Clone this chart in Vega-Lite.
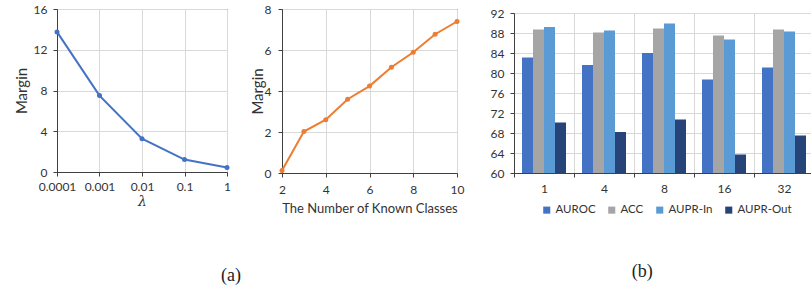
{
  "$schema": "https://vega.github.io/schema/vega-lite/v6.json",
  "padding": {"left": 13, "top": 2, "right": 0, "bottom": 0},
  "spacing": 24,
  "config": {
    "font": "Lato",
    "view": {"stroke": "#404040", "strokeWidth": 1},
    "axis": {
      "domainColor": "#404040",
      "tickColor": "#404040",
      "gridColor": "#d9d9d9",
      "labelColor": "#333333",
      "titleColor": "#333333",
      "labelFontSize": 12,
      "titleFontSize": 15,
      "titleFontWeight": "normal",
      "tickSize": 4,
      "labelPadding": 4
    },
    "legend": {"labelFontSize": 11.5, "labelColor": "#333333"}
  },
  "hconcat": [
    {
      "spacing": 17,
      "title": {"text": "(a)", "orient": "bottom", "anchor": "middle", "font": "Liberation Serif", "fontSize": 18, "fontWeight": "normal", "color": "#222222", "offset": 51, "dx": -8},
      "hconcat": [
        {
          "width": 170,
          "height": 163,
          "data": {"values": [
            {"lambda": 0.0001, "margin": 13.75},
            {"lambda": 0.001, "margin": 7.5},
            {"lambda": 0.01, "margin": 3.27},
            {"lambda": 0.1, "margin": 1.22},
            {"lambda": 1, "margin": 0.45}
          ]},
          "mark": {"type": "line", "color": "#4472C4", "strokeWidth": 2, "point": {"filled": true, "size": 25, "color": "#4472C4"}},
          "encoding": {
            "x": {"field": "lambda", "type": "quantitative",
              "scale": {"type": "log", "domain": [0.0001, 1], "nice": false},
              "axis": {"values": [0.0001, 0.001, 0.01, 0.1, 1], "format": "~g", "labelFlush": false, "labelOverlap": false, "title": "λ", "titleFontStyle": "italic", "titleFont": "DejaVu Serif", "titleFontSize": 14, "labelPadding": 5, "titlePadding": 2}},
            "y": {"field": "margin", "type": "quantitative",
              "scale": {"domain": [0, 16]},
              "axis": {"values": [0, 4, 8, 12, 16], "title": "Margin", "labelPadding": 6, "titlePadding": 4}}
          }
        },
        {
          "width": 175,
          "height": 164,
          "data": {"values": [
            {"k": 2, "margin": 0.12},
            {"k": 3, "margin": 2.02},
            {"k": 4, "margin": 2.6},
            {"k": 5, "margin": 3.6},
            {"k": 6, "margin": 4.24},
            {"k": 7, "margin": 5.16},
            {"k": 8, "margin": 5.89},
            {"k": 9, "margin": 6.77},
            {"k": 10, "margin": 7.39}
          ]},
          "mark": {"type": "line", "color": "#ED7D31", "strokeWidth": 2, "point": {"filled": true, "size": 25, "color": "#ED7D31"}},
          "encoding": {
            "x": {"field": "k", "type": "quantitative",
              "scale": {"domain": [2, 10], "nice": false},
              "axis": {"values": [2, 4, 6, 8, 10], "labelFlush": false, "labelOverlap": false, "title": "The Number of Known Classes", "titleFontSize": 13, "labelPadding": 7, "titlePadding": 7}},
            "y": {"field": "margin", "type": "quantitative",
              "scale": {"domain": [0, 8]},
              "axis": {"values": [0, 2, 4, 6, 8], "title": "Margin", "labelPadding": 7, "titlePadding": -1}}
          }
        }
      ]
    },
    {
      "title": {"text": "(b)", "orient": "bottom", "anchor": "middle", "font": "Liberation Serif", "fontSize": 18, "fontWeight": "normal", "color": "#222222", "offset": 46, "dx": -10},
      "spacing": -4,
      "resolve": {"scale": {"color": "independent"}, "legend": {"color": "independent"}},
      "vconcat": [
        {
          "width": 300,
          "height": 1,
          "view": {"stroke": null},
          "data": {"values": []},
          "mark": "point",
          "encoding": {}
        },
        {
          "width": 300,
          "height": 160,
          "data": {"values": [
            {"group": "1", "metric": "AUROC", "value": 83.1},
            {"group": "1", "metric": "ACC", "value": 88.7},
            {"group": "1", "metric": "AUPR-In", "value": 89.2},
            {"group": "1", "metric": "AUPR-Out", "value": 70.1},
            {"group": "4", "metric": "AUROC", "value": 81.6},
            {"group": "4", "metric": "ACC", "value": 88.1},
            {"group": "4", "metric": "AUPR-In", "value": 88.5},
            {"group": "4", "metric": "AUPR-Out", "value": 68.2},
            {"group": "8", "metric": "AUROC", "value": 84.0},
            {"group": "8", "metric": "ACC", "value": 88.9},
            {"group": "8", "metric": "AUPR-In", "value": 89.9},
            {"group": "8", "metric": "AUPR-Out", "value": 70.7},
            {"group": "16", "metric": "AUROC", "value": 78.7},
            {"group": "16", "metric": "ACC", "value": 87.5},
            {"group": "16", "metric": "AUPR-In", "value": 86.7},
            {"group": "16", "metric": "AUPR-Out", "value": 63.7},
            {"group": "32", "metric": "AUROC", "value": 81.1},
            {"group": "32", "metric": "ACC", "value": 88.7},
            {"group": "32", "metric": "AUPR-In", "value": 88.3},
            {"group": "32", "metric": "AUPR-Out", "value": 67.5}
          ]},
          "mark": {"type": "bar", "clip": true},
          "encoding": {
            "x": {"field": "group", "type": "ordinal", "sort": ["1", "4", "8", "16", "32"],
              "scale": {"paddingInner": 0, "paddingOuter": 0},
              "axis": {"title": null, "tickBand": "extent", "grid": true, "labelAngle": 0, "labelPadding": 6}},
            "xOffset": {"field": "metric", "type": "nominal", "sort": ["AUROC", "ACC", "AUPR-In", "AUPR-Out"],
              "scale": {"paddingInner": 0, "paddingOuter": 0.727}},
            "y": {"field": "value", "type": "quantitative",
              "scale": {"domain": [60, 92], "nice": false, "zero": false},
              "axis": {"values": [60, 64, 68, 72, 76, 80, 84, 88, 92], "title": null, "labelPadding": 6}},
            "color": {"field": "metric", "type": "nominal", "sort": ["AUROC", "ACC", "AUPR-In", "AUPR-Out"],
              "scale": {"domain": ["AUROC", "ACC", "AUPR-In", "AUPR-Out"], "range": ["#4472C4", "#A5A5A5", "#5B9BD5", "#264478"]},
              "legend": {"orient": "none", "legendX": 27, "legendY": 191, "direction": "horizontal", "title": null, "symbolType": "square", "symbolSize": 50, "symbolStrokeWidth": 0, "labelOffset": 3, "columnPadding": 10}}
          }
        }
      ]
    }
  ]
}
